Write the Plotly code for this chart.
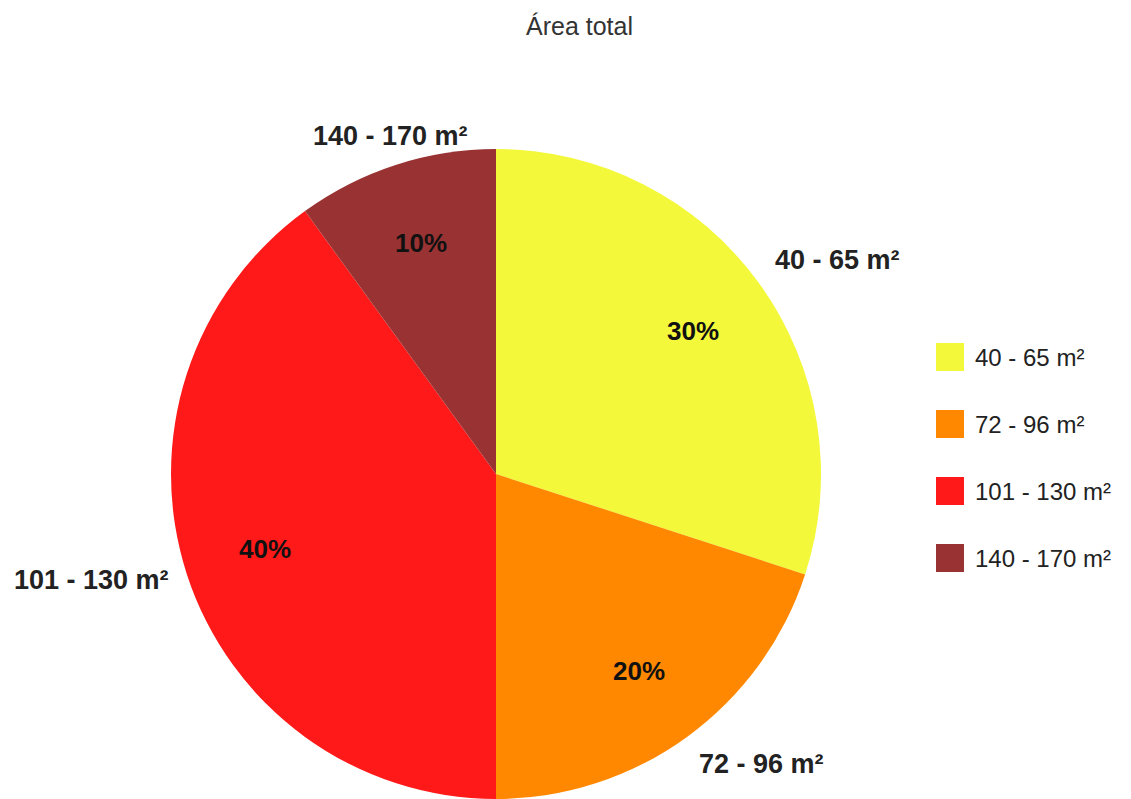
import math
import plotly.graph_objects as go

# ---- data ----
labels = ["40 - 65 m²", "72 - 96 m²", "101 - 130 m²", "140 - 170 m²"]
values = [30, 20, 40, 10]
colors = ["#F3F83B", "#FF8800", "#FF1919", "#993333"]
title = "Área total"

W, H = 1131, 799
FONT = "Liberation Sans, Arial, sans-serif"

# pie geometry (pixels)
cx, cy, R = 496, 474, 325
dom_x = [(cx - R - 1) / W, (cx + R + 1) / W]
dom_y = [0, (2 * R) / H]

fig = go.Figure(go.Pie(
    labels=labels, values=values, sort=False, direction="clockwise", rotation=0,
    marker=dict(colors=colors, line=dict(width=0)),
    textinfo="none", hoverinfo="label+percent", showlegend=False,
    domain=dict(x=dom_x, y=dom_y),
))

def px2paper(x, y):
    return x / W, 1 - y / H

annotations = []
shapes = []
total = sum(values)
cum = 0
for lab, v in zip(labels, values):
    theta = 2 * math.pi * (cum + v / 2) / total
    cum += v
    s, c = math.sin(theta), math.cos(theta)
    # percentage inside
    xp, yp = px2paper(cx + 0.748 * R * s, cy - 0.748 * R * c)
    annotations.append(dict(x=xp, y=yp, xref="paper", yref="paper", showarrow=False,
                            text=f"<b>{round(100 * v / total)}%</b>", xanchor="center",
                            yanchor="middle",
                            font=dict(family=FONT, size=26, color="#111111")))
    # outside label
    xo, yo = px2paper(cx + 1.052 * R * s, cy - 1.052 * R * c)
    anchor = "left" if s > 0.5 else ("right" if s < -0.5 else "center")
    shift = 0 if abs(c) < 0.5 else (13 if c > 0 else -13)
    annotations.append(dict(x=xo, y=yo, xref="paper", yref="paper", showarrow=False,
                            text=f"<b>{lab}</b>", xanchor=anchor, yanchor="middle",
                            yshift=shift,
                            font=dict(family=FONT, size=27, color="#222222")))

# custom legend
leg_x0, leg_y0, leg_step, sq = 936, 357, 67, 28
for i, (lab, col) in enumerate(zip(labels, colors)):
    yc = leg_y0 + i * leg_step
    x0, y0 = px2paper(leg_x0, yc - sq / 2)
    x1, y1 = px2paper(leg_x0 + sq, yc + sq / 2)
    shapes.append(dict(type="rect", xref="paper", yref="paper", x0=x0, x1=x1, y0=y1, y1=y0,
                       fillcolor=col, line=dict(width=0)))
    tx, ty = px2paper(leg_x0 + sq + 9, yc)
    annotations.append(dict(x=tx, y=ty, xref="paper", yref="paper", showarrow=False,
                            text=lab, xanchor="left", yanchor="middle",
                            font=dict(family=FONT, size=24, color="#222222")))

# title
tx, ty = px2paper(579, 26)
annotations.append(dict(x=tx, y=ty, xref="paper", yref="paper", showarrow=False,
                        text=title, xanchor="center", yanchor="middle",
                        font=dict(family=FONT, size=25, color="#333333")))

fig.update_layout(
    width=W, height=H, margin=dict(l=0, r=0, t=0, b=0),
    paper_bgcolor="white", plot_bgcolor="white",
    annotations=annotations, shapes=shapes,
)

fig.write_html("out.html")
